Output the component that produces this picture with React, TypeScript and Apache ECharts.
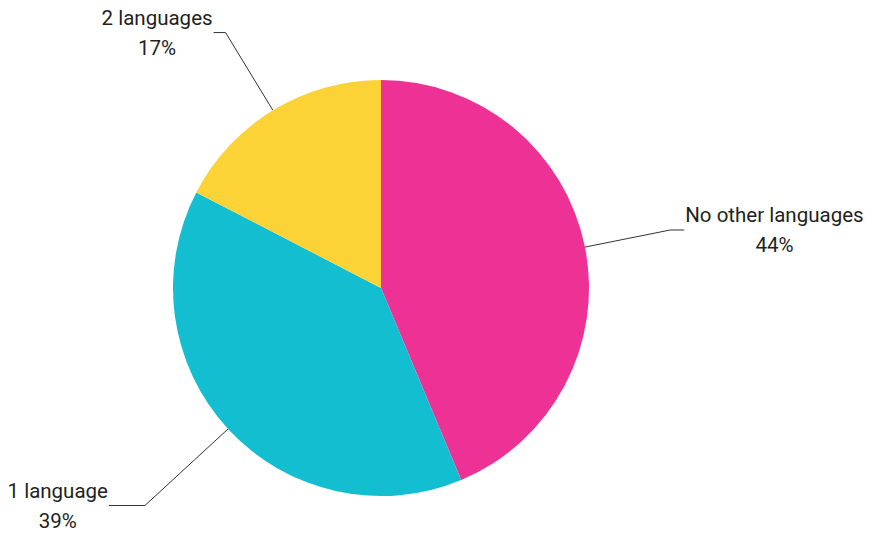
import React, { useEffect, useRef } from 'react';
import * as echarts from 'echarts';

const categories = ['No other languages', '1 language', '2 languages'];
const values = [43.7, 38.9, 17.4];
const colors = ['#EE3194', '#13BED0', '#FBD337'];
const lineLengths = [87, 113, 91];
const lineLengths2 = [14, 36, 12];

export default function App() {
  const ref = useRef<HTMLDivElement>(null);
  useEffect(() => {
    if (!ref.current) return;
    const chart = echarts.init(ref.current, undefined, { renderer: 'svg' });
    chart.setOption({
      animation: false,
      backgroundColor: '#ffffff',
      series: [
        {
          type: 'pie',
          center: [381, 288],
          radius: 208,
          startAngle: 90,
          clockwise: true,
          avoidLabelOverlap: false,
          label: {
            show: true,
            position: 'outside',
            alignTo: 'none',
            distanceToLabelLine: 1,
            formatter: (p: any) => `{c|${p.name}}\n{c|${Math.round(p.percent)}%}`,
            rich: {
              c: {
                align: 'center',
                fontFamily: 'Roboto',
                fontSize: 20.5,
                lineHeight: 30,
                color: '#231F20',
              },
            },
          },
          labelLine: {
            show: true,
            smooth: false,
            lineStyle: { color: '#333333', width: 1 },
          },
          itemStyle: { borderWidth: 0 },
          emphasis: { disabled: true },
          data: categories.map((name, i) => ({
            name,
            value: values[i],
            itemStyle: { color: colors[i] },
            labelLine: { length: lineLengths[i], length2: lineLengths2[i] },
          })),
        },
      ],
    });
    return () => chart.dispose();
  }, []);
  return (
    <div
      ref={ref}
      style={{ position: 'absolute', left: 0, top: 0, width: 872, height: 537 }}
    />
  );
}
